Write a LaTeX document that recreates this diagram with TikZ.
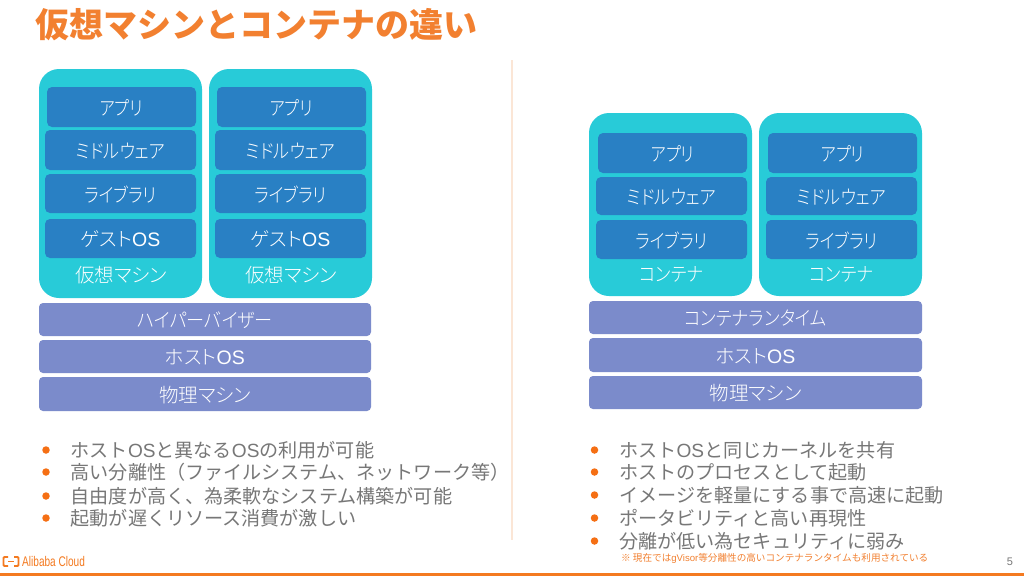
\documentclass[tikz,border=0pt]{standalone}
\usepackage{fontspec}
\usepackage{graphicx}
\setmainfont{Noto Sans CJK JP}
\newfontfamily\thinjp{Noto Sans CJK JP Light}[RawFeature=+palt]
\newfontfamily\lat{Liberation Sans}
\newfontfamily\logofont{Liberation Sans}[FakeStretch=0.72]
\definecolor{org}{HTML}{F28030}
\definecolor{barorg}{HTML}{F47A20}
\definecolor{dot}{HTML}{F56F14}
\definecolor{cyanbox}{HTML}{28CBD8}
\definecolor{bluebox}{HTML}{2980C4}
\definecolor{barblue}{HTML}{7B8BCB}
\definecolor{bodygray}{HTML}{777777}
\definecolor{divline}{HTML}{FBE6D6}
\tikzset{
 x=1pt,y=-1pt,
 outerbox/.style={fill=cyanbox,rounded corners=20pt},
 innerbox/.style={fill=bluebox,rounded corners=5pt},
 barbox/.style={fill=barblue,rounded corners=4pt},
 boxtext/.style={text=white,font=\thinjp\fontsize{19.5}{19}\selectfont,inner sep=0pt,anchor=center},
 bullettext/.style={text=bodygray,font=\fontsize{19.1}{19}\selectfont,inner sep=0pt,anchor=west},
 bulletdot/.style={circle,fill=dot,inner sep=0pt,minimum size=7.5pt},
}
\newcommand{\kn}[2]{\scalebox{#1}[1]{#2}}
\newcommand{\labbox}[7]{%
 \fill[#6] (#2,#4) rectangle (#3,#5);
 \node[boxtext] (#1) at ({(#2+#3)/2},{(#4+#5)/2+1}) {#7};}
\newcommand{\bul}[4]{%
 \node[bulletdot] (d#1) at (#2,#3) {};
 \node[bullettext] (t#1) at ({#2+24.5},#3) {#4};}
\newcommand{\vmstack}[2]{%
 \fill[outerbox] (39+#2,69) rectangle (202+#2,298);
 \labbox{#1a}{47+#2}{196+#2}{87}{127}{innerbox}{\kn{0.83}{アプリ}}
 \labbox{#1b}{45+#2}{196+#2}{130}{170}{innerbox}{\kn{0.88}{ミドルウェア}}
 \labbox{#1c}{45+#2}{196+#2}{174}{213}{innerbox}{\kn{0.86}{ライブラリ}}
 \labbox{#1d}{45+#2}{196+#2}{219}{258}{innerbox}{ゲスト{\lat OS}}
 \node[boxtext] (#1e) at (121+#2,275) {仮想マシン};}
\newcommand{\ctstack}[2]{%
 \fill[outerbox] (589+#2,113) rectangle (752+#2,296);
 \labbox{#1a}{598+#2}{747+#2}{133}{173}{innerbox}{\kn{0.83}{アプリ}}
 \labbox{#1b}{596+#2}{747+#2}{177}{215}{innerbox}{\kn{0.88}{ミドルウェア}}
 \labbox{#1c}{596+#2}{747+#2}{220}{259}{innerbox}{\kn{0.86}{ライブラリ}}
 \node[boxtext] (#1e) at (671+#2,274) {\kn{0.89}{コンテナ}};}
\begin{document}
\begin{tikzpicture}
\useasboundingbox (0,0) rectangle (1024,576);
\fill[white] (0,0) rectangle (1024,576);
\node[text=org,font=\fontsize{34}{34}\bfseries\selectfont,inner sep=0pt,anchor=west] (title) at (35,25) {仮想マシンとコンテナの違い};
\draw[divline,line width=1.5pt] (512,60) -- (512,540);
\vmstack{v}{0}
\vmstack{w}{170}
\ctstack{c}{0}
\ctstack{k}{170}
\labbox{h1}{39}{371}{303}{336}{barbox}{\kn{0.93}{ハイパーバイザー}}
\labbox{h2}{39}{371}{340}{373}{barbox}{ホスト{\lat OS}}
\labbox{h3}{39}{371}{377}{411}{barbox}{物理マシン}
\labbox{r1}{589}{922}{301}{334}{barbox}{\kn{0.9}{コンテナランタイム}}
\labbox{r2}{589}{922}{338}{372}{barbox}{ホスト{\lat OS}}
\labbox{r3}{589}{922}{376}{409}{barbox}{物理マシン}
\bul{a}{46}{450}{ホスト{\lat OS}と異なる{\lat OS}の利用が可能}
\bul{b}{46}{472}{高い分離性（ファイルシステム、ネットワーク等）}
\bul{c}{46}{496}{自由度が高く、為柔軟なシステム構築が可能}
\bul{e}{46}{518}{起動が遅くリソース消費が激しい}
\bul{f}{594.5}{450}{ホスト{\lat OS}と同じカーネルを共有}
\bul{g}{594.5}{472}{ホストのプロセスとして起動}
\bul{h}{594.5}{495}{イメージを軽量にする事で高速に起動}
\bul{i}{594.5}{518}{ポータビリティと高い再現性}
\bul{j}{594.5}{541}{分離が低い為セキュリティに弱み}
\node[text=org,font=\fontsize{9.6}{10}\selectfont,inner sep=0pt,anchor=west] (note) at (621,558) {※ 現在では{\lat gVisor}等分離性の高いコンテナランタイムも利用されている};
\node[text=bodygray,font=\lat\fontsize{11}{11}\selectfont,inner sep=0pt] (pg) at (1010,562) {5};
\fill[barorg] (0,573) rectangle (1024,576);
\draw[barorg,line width=1.8pt,rounded corners=1pt] (8,557) -- (3.5,557) -- (3.5,566) -- (8,566);
\draw[barorg,line width=1.8pt,rounded corners=1pt] (14,557) -- (18.5,557) -- (18.5,566) -- (14,566);
\draw[barorg,line width=1.2pt] (8,561.5) -- (14,561.5);
\node[text=barorg,font=\logofont\fontsize{14}{14}\selectfont,inner sep=0pt,anchor=west] (logo) at (22,561.5) {Alibaba Cloud};
\end{tikzpicture}
\end{document}
